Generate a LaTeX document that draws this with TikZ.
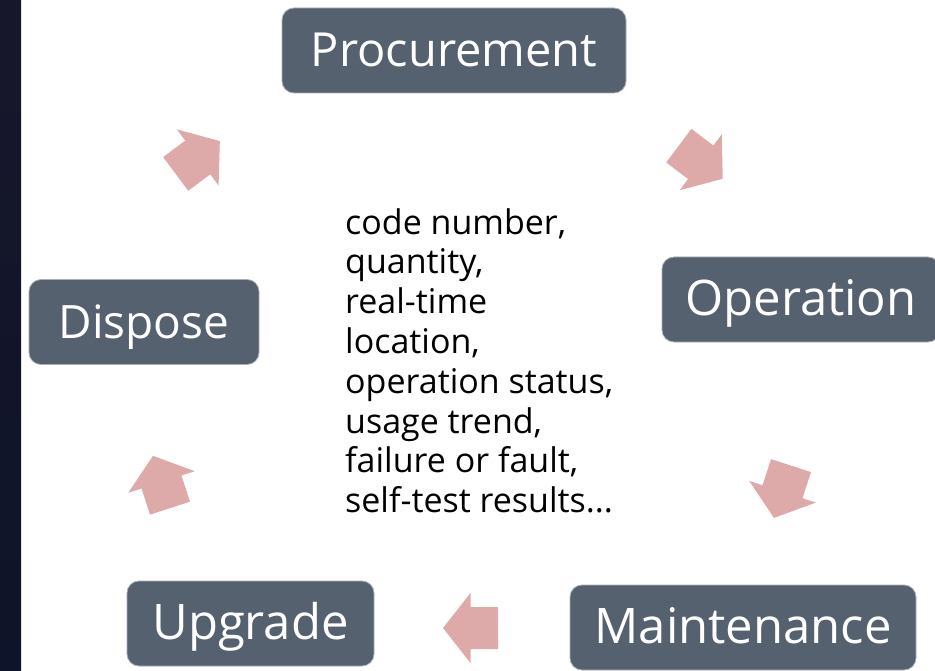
\documentclass[tikz,border=0pt]{standalone}
\usepackage{fontspec}
\setmainfont{Open Sans}
\definecolor{boxc}{HTML}{56616F}
\definecolor{boxline}{HTML}{A9AFB6}
\definecolor{arrc}{HTML}{DDAAA9}
\definecolor{stripT}{HTML}{17172B}
\definecolor{stripB}{HTML}{0E1429}
\tikzset{
  stage/.style={rounded corners=12pt, fill=boxc, draw=boxline, line width=0.8pt,
    text=white, minimum height=85pt, inner sep=0pt,
    font=\fontsize{48}{52}\selectfont, text height=33pt, text depth=1pt},
  blockarrow/.pic={\fill[arrc] (-27.5,-21) -- (0,-21) -- (0,-35) -- (27.5,0)
    -- (0,35) -- (0,21) -- (-27.5,21) -- cycle;}
}
\begin{document}
\begin{tikzpicture}[x=1pt,y=-1pt]
\useasboundingbox (0,0) rectangle (935,671);
\clip (0,0) rectangle (935,671);
\fill[white] (0,0) rectangle (935,671);
\shade[top color=stripT, bottom color=stripB] (0,0) rectangle (21,671);

\node[stage, minimum width=344pt, font=\fontsize{47}{50}\selectfont] (proc) at (454,50.5) {Procurement};
\node[stage, minimum width=278pt, font=\fontsize{49}{52}\selectfont] (oper) at (801,299.5) {Operation};
\node[stage, minimum width=346pt, font=\fontsize{49}{52}\selectfont] (main) at (743,627.5) {Maintenance};
\node[stage, minimum width=247pt, font=\fontsize{49}{52}\selectfont] (upg) at (250.5,623.5) {Upgrade};
\node[stage, minimum width=230pt, font=\fontsize{46}{50}\selectfont] (disp) at (144,322) {Dispose};

\node[anchor=north west, align=left, inner sep=0pt,
  font=\fontsize{34}{39.8}\selectfont] (info) at (345,208)
  {code number,\\quantity,\\real-time\\location,\\operation status,\\usage trend,\\failure or fault,\\self-test results...};

\pic[rotate=36.6] (a1) at (197.75,157.5) {blockarrow};
\pic[rotate=-37] (a2) at (700.75,162.25) {blockarrow};
\pic[rotate=-108] (a3) at (782.5,491.75) {blockarrow};
\pic[rotate=180] (a4) at (470.5,628) {blockarrow};
\pic[rotate=108] (a5) at (161.5,482) {blockarrow};
\end{tikzpicture}
\end{document}
